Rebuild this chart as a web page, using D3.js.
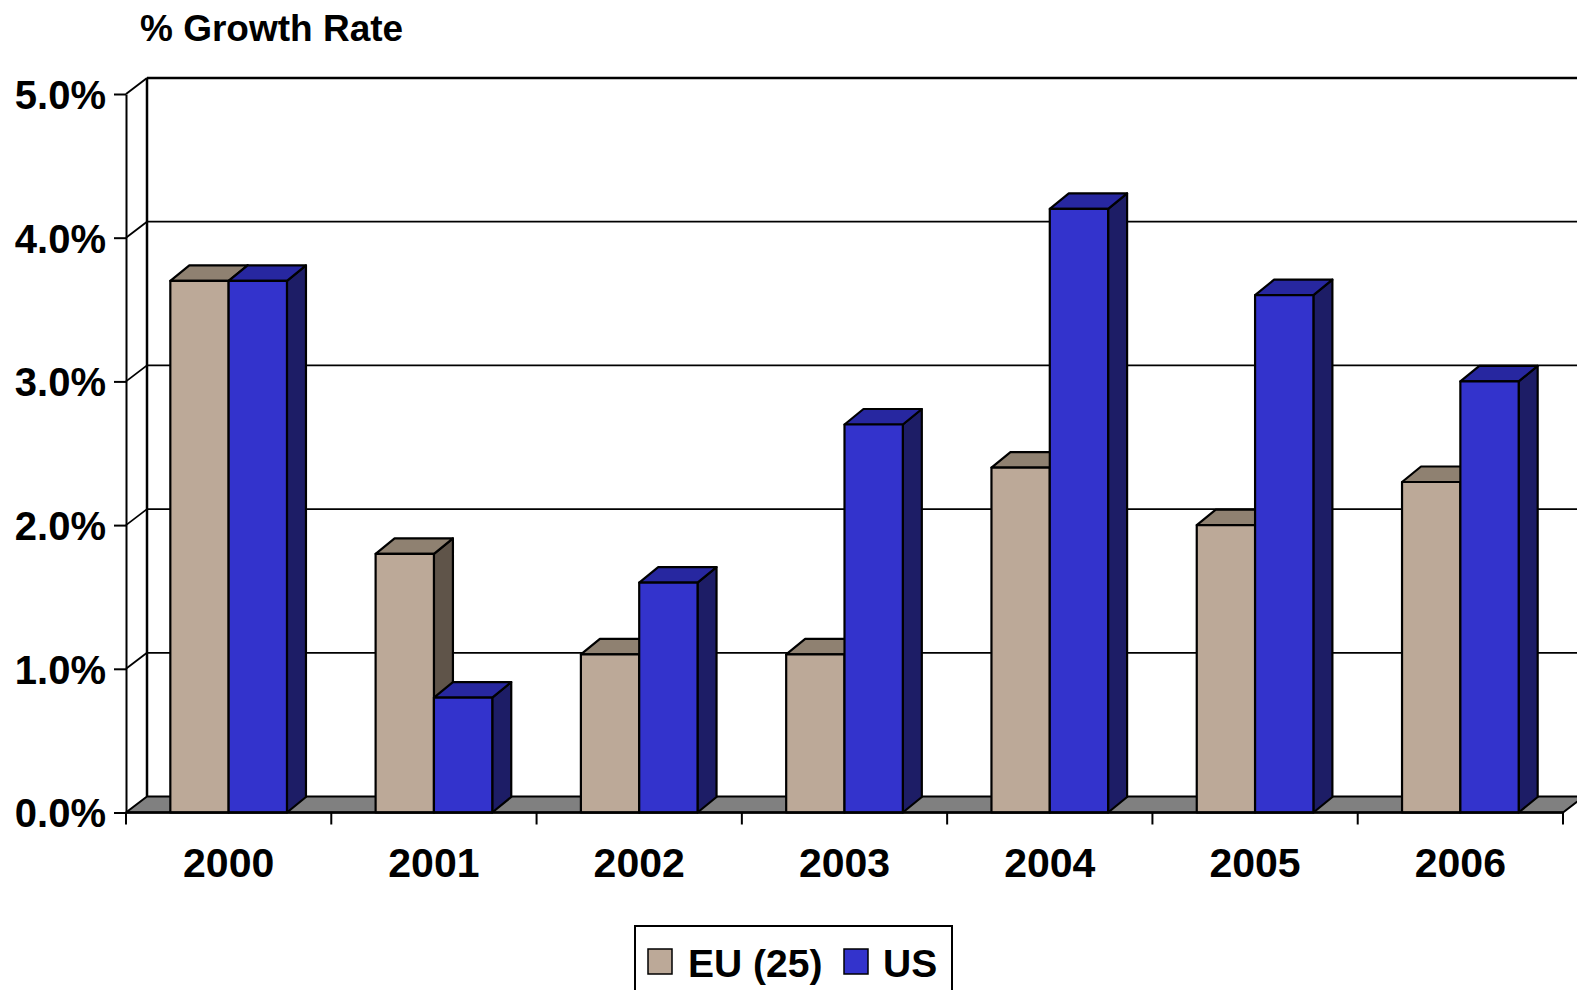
<!DOCTYPE html>
<html>
<head>
<meta charset="utf-8">
<script src="https://cdnjs.cloudflare.com/ajax/libs/d3/7.8.5/d3.min.js"></script>
<style>
  body { margin: 0; background: #fff; }
  svg { display: block; }
  text { font-family: "Liberation Sans", Arial, sans-serif; font-weight: bold; fill: #000; }
</style>
</head>
<body>
<div id="chart"></div>
<script>
// data
var years = ["2000", "2001", "2002", "2003", "2004", "2005", "2006"];
var seriesNames = ["EU (25)", "US"];
var euValues = [3.7, 1.8, 1.1, 1.1, 2.4, 2.0, 2.3];
var usValues = [3.7, 0.8, 1.6, 2.7, 4.2, 3.6, 3.0];
var yTicks = [0, 1, 2, 3, 4, 5];

var colors = {
  "EU (25)": {front: "#bca998", top: "#8f8171", side: "#5f5449"},
  "US": {front: "#3333cc", top: "#2727a0", side: "#1d1d66"}
};

var width = 1577, height = 990;
var wallDx = 21, wallDy = -16;   // depth of the floor / back wall
var barDx = 19, barDy = -15.5;   // depth of each bar

var svg = d3.select("#chart").append("svg")
  .attr("width", width)
  .attr("height", height);

var y = d3.scaleLinear().domain([0, 5]).range([812.5, 94]);
var x = d3.scaleBand().domain(years).range([126, 1563]).padding(0);
var xs = d3.scaleBand().domain(seriesNames).range([0, x.bandwidth()])
  .paddingInner(0).paddingOuter(0.76);

var rows = years.map(function(yr, i) {
  return {year: yr, values: [
    {name: "EU (25)", v: euValues[i]},
    {name: "US", v: usValues[i]}
  ]};
});

// back wall gridlines + left wall diagonals
var grid = svg.append("g");
yTicks.forEach(function(t) {
  if (t > 0) {
    grid.append("line")
      .attr("x1", 126).attr("y1", y(t))
      .attr("x2", 126 + wallDx).attr("y2", y(t) + wallDy)
      .attr("stroke", "#000").attr("stroke-width", t == 5 ? 2 : 1.8);
    grid.append("line")
      .attr("x1", 126 + wallDx).attr("y1", y(t) + wallDy)
      .attr("x2", width).attr("y2", y(t) + wallDy)
      .attr("stroke", "#000").attr("stroke-width", t == 5 ? 2.5 : 1.8);
  }
});
// back wall left edge
grid.append("line")
  .attr("x1", 126 + wallDx).attr("y1", y(0) + wallDy)
  .attr("x2", 126 + wallDx).attr("y2", y(5) + wallDy)
  .attr("stroke", "#000").attr("stroke-width", 2.5);

// floor
var x0 = 126, x1 = 1563, yf = y(0);
svg.append("path")
  .attr("d", "M" + x0 + "," + yf + "L" + x1 + "," + yf +
    "L" + (x1 + wallDx) + "," + (yf + wallDy) +
    "L" + (x0 + wallDx) + "," + (yf + wallDy) + "Z")
  .attr("fill", "#808080")
  .attr("stroke", "#000")
  .attr("stroke-width", 2);

// bars
function barPaths(g, d, xl) {
  var w = xs.bandwidth();
  var xr = xl + w, yt = y(d.v), yb = y(0);
  var c = colors[d.name];
  g.append("path")
    .attr("d", "M" + xr + "," + yb + "L" + (xr + barDx) + "," + (yb + barDy) +
      "L" + (xr + barDx) + "," + (yt + barDy) + "L" + xr + "," + yt + "Z")
    .attr("fill", c.side);
  g.append("path")
    .attr("d", "M" + xl + "," + yt + "L" + (xl + barDx) + "," + (yt + barDy) +
      "L" + (xr + barDx) + "," + (yt + barDy) + "L" + xr + "," + yt + "Z")
    .attr("fill", c.top);
  g.append("rect")
    .attr("x", xl).attr("y", yt)
    .attr("width", w).attr("height", yb - yt)
    .attr("fill", c.front);
  g.selectAll("path, rect")
    .attr("stroke", "#000")
    .attr("stroke-width", 2.2)
    .attr("stroke-linejoin", "round");
}

var bars = svg.append("g");
rows.forEach(function(r) {
  r.values.forEach(function(d) {
    barPaths(bars.append("g"), d, x(r.year) + xs(d.name));
  });
});

// y axis
var yAxis = d3.axisLeft(y)
  .tickValues(yTicks)
  .tickSize(12)
  .tickSizeOuter(0)
  .tickPadding(8)
  .tickFormat(function(d) { return d.toFixed(1) + "%"; });
var gy = svg.append("g")
  .attr("transform", "translate(126,0)")
  .call(yAxis);
gy.select(".domain").attr("stroke-width", 2);
gy.selectAll(".tick line").attr("stroke-width", 2);
gy.selectAll("text")
  .attr("font-size", 40)
  .attr("font-family", "'Liberation Sans', Arial, sans-serif")
  .attr("font-weight", "bold")
  .attr("dy", "0.36em");

// x axis: labels at band centres, ticks at band edges
var xAxis = d3.axisBottom(x).tickSize(0).tickPadding(0);
var gx = svg.append("g")
  .attr("transform", "translate(0," + y(0) + ")")
  .call(xAxis);
gx.select(".domain").remove();
gx.selectAll("text")
  .attr("font-size", 41)
  .attr("font-family", "'Liberation Sans', Arial, sans-serif")
  .attr("font-weight", "bold")
  .attr("y", 64)
  .attr("dy", 0);
svg.append("line")
  .attr("x1", 126).attr("x2", 1563)
  .attr("y1", y(0)).attr("y2", y(0))
  .attr("stroke", "#000").attr("stroke-width", 2.5);
svg.append("g").selectAll("line")
  .data(years.concat(["end"]))
  .join("line")
  .attr("x1", function(d, i) { return x.range()[0] + i * x.step(); })
  .attr("x2", function(d, i) { return x.range()[0] + i * x.step(); })
  .attr("y1", y(0)).attr("y2", y(0) + 12)
  .attr("stroke", "#000").attr("stroke-width", 2);

// title
svg.append("text")
  .attr("x", 140).attr("y", 41)
  .attr("font-size", 37)
  .text("% Growth Rate");

// legend
var legend = svg.append("g");
legend.append("rect")
  .attr("x", 635).attr("y", 926)
  .attr("width", 317).attr("height", 90)
  .attr("fill", "#fff")
  .attr("stroke", "#000").attr("stroke-width", 2);
var legX = [648, 844];
var legTx = [688, 883];
seriesNames.forEach(function(n, i) {
  legend.append("rect")
    .attr("x", legX[i]).attr("y", 949)
    .attr("width", 24).attr("height", 25)
    .attr("fill", colors[n].front)
    .attr("stroke", "#000").attr("stroke-width", 1.5);
  legend.append("text")
    .attr("x", legTx[i]).attr("y", 977)
    .attr("font-size", 39)
    .text(n);
});
</script>
</body>
</html>
